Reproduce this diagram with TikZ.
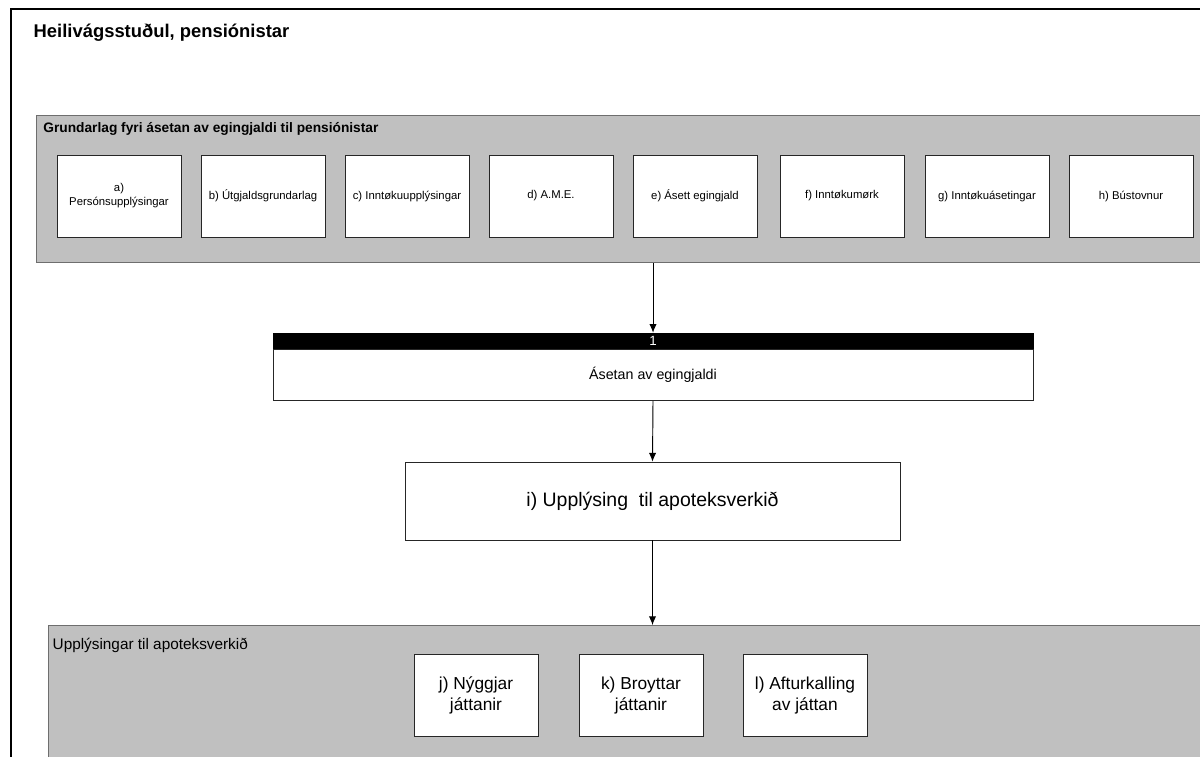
\documentclass[tikz,border=0pt]{standalone}
\usepackage{fontspec}
\setmainfont{Liberation Sans}
\usetikzlibrary{arrows.meta,positioning}
\definecolor{PanelGray}{HTML}{C0C0C0}
\definecolor{PanelEdge}{HTML}{6E6E6E}

\begin{document}
\begin{tikzpicture}[x=0.75pt,y=-0.75pt,
    panel/.style={draw=PanelEdge,fill=PanelGray,line width=1.1pt,inner sep=0pt,anchor=north west},
    itembox/.style={draw=black!85,fill=white,line width=0.6pt,minimum width=93pt,minimum height=61.5pt,inner sep=2pt,align=center},
    flow/.style={-{Latex[length=6.5pt,width=5.5pt]},line width=0.7pt}]
   \clip (0,0) rectangle (1200,757);
   \fill[white] (0,0) rectangle (1200,757);
   \draw[line width=1.8pt] (11,765) -- (11,9) -- (1210,9);

   \node[anchor=north west,font=\bfseries\fontsize{13.8}{16}\selectfont] (title) at (29,19) {Heilivágsstuðul, pensiónistar};

   % grundarlag
   \node[panel,minimum width=884pt,minimum height=110.25pt] (basis) at (36,115) {};
   \node[below right=2pt and 2pt of basis.north west,font=\bfseries\fontsize{10.3}{12}\selectfont] (basistitle) {Grundarlag fyri ásetan av egingjaldi til pensiónistar};
   \foreach \cx/\id/\txt in {119/a/{a)\\Persónsupplýsingar},263/b/{b) Útgjaldsgrundarlag},
      407/c/{c) Inntøkuupplýsingar},551/d/{d) A.M.E.},695/e/{e) Ásett egingjald},
      842/f/{f) Inntøkumørk},987/g/{g) Inntøkuásetingar},1131/h/{h) Bústovnur}} {
    \node[itembox,font=\fontsize{8.5}{10.5}\selectfont] (\id) at (\cx,196) {\txt};
   }

   % ásetan
   \node[draw=black,fill=black,text=white,minimum width=570pt,minimum height=12pt,inner sep=0pt,
      font=\fontsize{10}{12}\selectfont] (hdr) at (653,341) {1};
   \node[draw=black!85,fill=white,line width=0.6pt,minimum width=570pt,minimum height=38.25pt,
      below=0pt of hdr,font=\fontsize{10.7}{12}\selectfont] (fixing) {Ásetan av egingjaldi};

   \node[itembox,minimum width=371.25pt,minimum height=58.5pt,font=\fontsize{14.6}{17}\selectfont] (info) at (652.5,501) {i) Upplýsing\ \ til apoteksverkið};

   % apoteksverkið
   \node[panel,minimum width=875pt,minimum height=110pt] (apotek) at (48,625) {};
   \node[below right=6pt and 0pt of apotek.north west,font=\fontsize{11.5}{13}\selectfont] (apotektitle) {Upplýsingar til apoteksverkið};
   \node[itembox,font=\fontsize{13}{15.5}\selectfont] (j) at (476,695.5) {j) Nýggjar\\játtanir};
   \node[itembox,font=\fontsize{13}{15.5}\selectfont] (k) at (641,695.5) {k) Broyttar\\játtanir};
   \node[itembox,font=\fontsize{13}{15.5}\selectfont] (l) at (805,695.5) {l) Afturkalling\\av játtan};

   \draw[flow] (hdr.north |- basis.south) -- (hdr.north);
   \draw[flow] (fixing.south) -- (info.north);
   \draw[flow] (info.south) -- (info.south |- apotek.north);
\end{tikzpicture}
\end{document}
